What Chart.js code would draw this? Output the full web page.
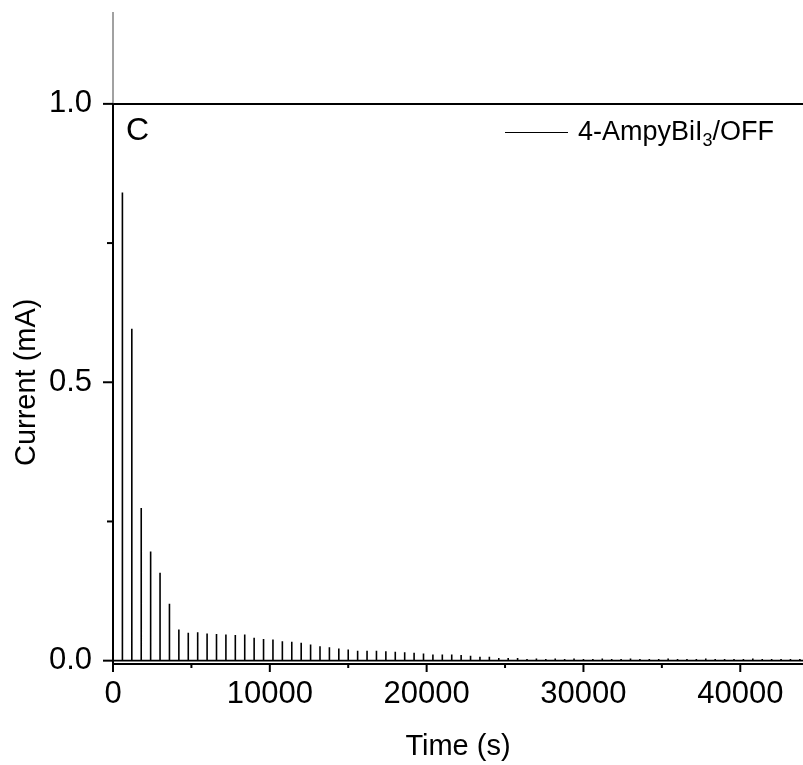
<!DOCTYPE html>
<html>
<head>
<meta charset="utf-8">
<script src="https://cdn.jsdelivr.net/npm/chart.js@4"></script>
<style>
  body { margin: 0; background: #fff; }
  #wrap { position: relative; width: 803px; height: 765px; font-family: "Liberation Sans", Arial, sans-serif; }
  #panel { position: absolute; left: 126px; top: 113px; font-size: 32px; line-height: 1; color: #000; }
  #legend { position: absolute; left: 505px; top: 116px; font-size: 27px; line-height: 30px; color: #000; white-space: nowrap; }
  #legend .swatch { display: inline-block; width: 63px; border-top: 1px solid #000; vertical-align: middle; margin-right: 10px; }
  #legend sub { font-size: 18px; vertical-align: -6px; line-height: 0; }
</style>
</head>
<body>
<div id="wrap">
  <canvas id="myChart" width="803" height="765"></canvas>
  <div id="panel">C</div>
  <div id="legend"><span class="swatch"></span>4-AmpyBiI<sub>3</sub>/OFF</div>
</div>
<script>
// light pulses every 600 s, peak current (mA)
const spikeTimes = [
    600, 1200, 1800, 2400, 3000, 3600, 4200, 4800, 5400, 6000,
    6600, 7200, 7800, 8400, 9000, 9600, 10200, 10800, 11400, 12000,
    12600, 13200, 13800, 14400, 15000, 15600, 16200, 16800, 17400, 18000,
    18600, 19200, 19800, 20400, 21000, 21600, 22200, 22800, 23400, 24000,
    24600, 25200, 25800, 26400, 27000, 27600, 28200, 28800, 29400, 30000,
    30600, 31200, 31800, 32400, 33000, 33600, 34200, 34800, 35400, 36000,
    36600, 37200, 37800, 38400, 39000, 39600, 40200, 40800, 41400, 42000,
    42600, 43200, 43800
];
const spikeHeights = [
    0.841, 0.596, 0.274, 0.196, 0.158, 0.102, 0.056, 0.050, 0.051, 0.049,
    0.048, 0.047, 0.046, 0.047, 0.041, 0.039, 0.038, 0.035, 0.034, 0.032,
    0.029, 0.026, 0.024, 0.022, 0.020, 0.018, 0.018, 0.018, 0.017, 0.016,
    0.015, 0.014, 0.013, 0.011, 0.011, 0.011, 0.010, 0.009, 0.007, 0.007,
    0.005, 0.005, 0.005, 0.003, 0.004, 0.003, 0.004, 0.003, 0.004, 0.003,
    0.003, 0.004, 0.003, 0.003, 0.004, 0.003, 0.003, 0.003, 0.004, 0.003,
    0.003, 0.003, 0.004, 0.003, 0.003, 0.003, 0.003, 0.004, 0.003, 0.003,
    0.003, 0.003, 0.003
];
const baseCurrent = 0;
const timeStart = 0;
const timeEnd = 44000;

const xMajorTicks = [0, 10000, 20000, 30000, 40000];
const xMinorTicks = [5000, 15000, 25000, 35000];
const yMajorTicks = [0, 0.5, 1.0];
const yMinorTicks = [0.25, 0.75];
const yTitle = 'Current (mA)';
const fontFamily = '"Liberation Sans", Arial, sans-serif';

// build the trace: flat baseline with a sharp spike at each pulse
const trace = [{ x: timeStart, y: baseCurrent }];
spikeTimes.forEach((t, i) => {
    trace.push({ x: t, y: baseCurrent });
    trace.push({ x: t, y: spikeHeights[i] });
    trace.push({ x: t, y: baseCurrent });
});
trace.push({ x: timeEnd, y: baseCurrent });

// axis lines, tick marks (major + minor) and the y title centred on 0..1
const axisMarks = {
    id: 'axisMarks',
    afterDraw(chart) {
        const { ctx, chartArea: a, scales: { x, y } } = chart;
        const seg = (x1, y1, x2, y2, w, c) => {
            ctx.beginPath();
            ctx.lineWidth = w;
            ctx.strokeStyle = c || '#000';
            ctx.moveTo(x1, y1);
            ctx.lineTo(x2, y2);
            ctx.stroke();
        };
        ctx.save();
        const top1 = y.getPixelForValue(1);
        seg(a.left, a.top, a.left, top1, 1, '#444');
        seg(a.left, top1, a.left, a.bottom + 1, 2);
        yMajorTicks.forEach(v => {
            const p = y.getPixelForValue(v);
            seg(a.left - 10, p, a.left, p, 2);
        });
        yMinorTicks.forEach(v => {
            const p = y.getPixelForValue(v);
            seg(a.left - 6, p, a.left, p, 2);
        });
        xMajorTicks.forEach(v => {
            const p = x.getPixelForValue(v);
            seg(p, a.bottom, p, a.bottom + 8, 2);
        });
        xMinorTicks.forEach(v => {
            const p = x.getPixelForValue(v);
            seg(p, a.bottom, p, a.bottom + 4, 2);
        });

        const mid = (y.getPixelForValue(0) + y.getPixelForValue(1)) / 2;
        ctx.translate(27, mid);
        ctx.rotate(-Math.PI / 2);
        ctx.fillStyle = '#000';
        ctx.font = '29px ' + fontFamily;
        ctx.textAlign = 'center';
        ctx.textBaseline = 'middle';
        ctx.fillText(yTitle, 0, 0);
        ctx.restore();
    }
};

const ctx = document.getElementById('myChart').getContext('2d');
new Chart(ctx, {
    type: 'line',
    data: {
        datasets: [{
            label: '4-AmpyBiI3/OFF',
            data: trace,
            borderColor: '#000',
            borderWidth: 1.6,
            pointRadius: 0,
            tension: 0
        }]
    },
    options: {
        responsive: false,
        animation: false,
        devicePixelRatio: 1,
        layout: { padding: { top: 12, right: 0, left: 0, bottom: 0 } },
        plugins: { legend: { display: false }, tooltip: { enabled: false } },
        scales: {
            x: {
                type: 'linear',
                min: timeStart,
                max: timeEnd,
                afterBuildTicks: s => { s.ticks = xMajorTicks.map(v => ({ value: v })); },
                afterFit: s => { s.height = 101; s.paddingLeft = 0; s.paddingRight = 0; },
                grid: { color: 'transparent', tickColor: 'transparent', tickLength: 8 },
                border: { display: true, color: '#000', width: 2 },
                ticks: {
                    maxRotation: 0,
                    autoSkip: false,
                    padding: 4,
                    color: '#000',
                    font: { family: fontFamily, size: 31 },
                    callback: v => String(v)
                },
                title: {
                    display: true,
                    text: 'Time (s)',
                    color: '#000',
                    padding: { top: 0, bottom: 1 },
                    font: { family: fontFamily, size: 29 }
                }
            },
            y: {
                min: -0.006,
                max: 1.165,
                afterBuildTicks: s => { s.ticks = yMajorTicks.map(v => ({ value: v })); },
                afterFit: s => { s.width = 113; s.paddingTop = 0; s.paddingBottom = 0; },
                grid: {
                    color: c => (c.tick && c.tick.value === 1 ? '#000' : 'transparent'),
                    lineWidth: 2,
                    tickColor: 'transparent',
                    tickLength: 10
                },
                border: { display: false },
                ticks: {
                    autoSkip: false,
                    padding: 11,
                    color: '#000',
                    font: { family: fontFamily, size: 31 },
                    callback: v => v.toFixed(1)
                }
            }
        }
    },
    plugins: [axisMarks]
});
</script>
</body>
</html>
